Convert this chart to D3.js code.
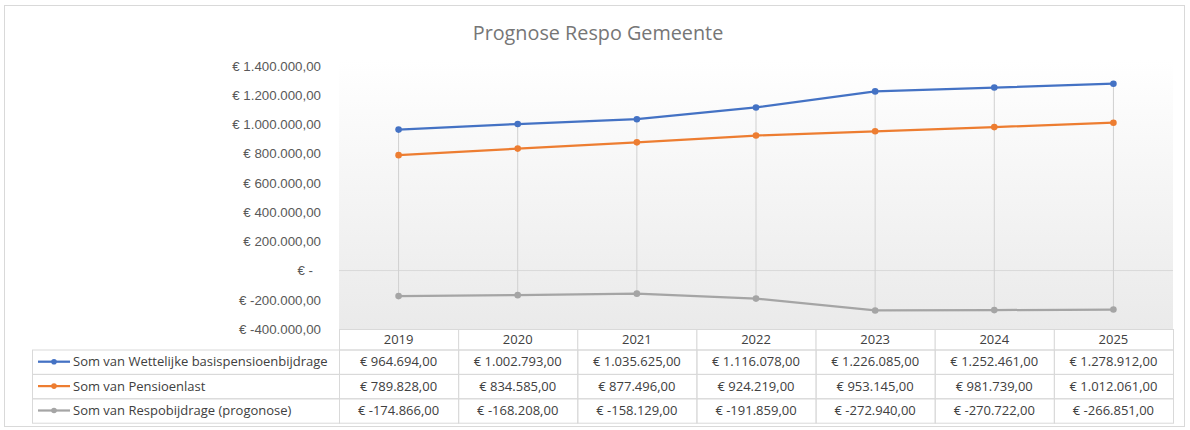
<!DOCTYPE html>
<html>
<head>
<meta charset="utf-8">
<script src="https://cdn.jsdelivr.net/npm/d3@7"></script>
<style>
  body { margin: 0; background: #ffffff; }
  svg { font-family: "Open Sans", "Noto Sans", sans-serif; }
  .ylabel { font-size: 13.3px; fill: #595959; }
  .cell { font-size: 13px; fill: #404040; }
  .legtxt { font-size: 13px; fill: #404040; }
</style>
</head>
<body>
<script>
// data
var years = ['2019', '2020', '2021', '2022', '2023', '2024', '2025'];
var wettelijke = [964694, 1002793, 1035625, 1116078, 1226085, 1252461, 1278912];
var pensioenlast = [789828, 834585, 877496, 924219, 953145, 981739, 1012061];
var respo = [-174866, -168208, -158129, -191859, -272940, -270722, -266851];
var seriesNames = ['Som van Wettelijke basispensioenbijdrage', 'Som van Pensioenlast', 'Som van Respobijdrage (progonose)'];
var seriesColors = ['#4472c4', '#ed7d31', '#a5a5a5'];
var yTicks = [-400000, -200000, 0, 200000, 400000, 600000, 800000, 1000000, 1200000, 1400000];
var title = 'Prognose Respo Gemeente';

var allSeries = [wettelijke, pensioenlast, respo];

var w = 1190,
    h = 430;
var plotLeft = 339,
    plotRight = 1173,
    plotTop = 60,
    plotBottom = 329;
var rowH = 24.4,
    headH = 20.5;

var nl = d3.formatLocale({decimal: ',', thousands: '.', grouping: [3], currency: ['€ ', '']});
var num = nl.format(',.2f');
var euro = function(v) {
    if (v === 0) return '€ -';
    return '€ ' + (v < 0 ? '-' : '') + num(Math.abs(v));
}

var svg = d3.select('body')
    .append('svg')
    .attr('width', w)
    .attr('height', h);

// chart border
svg.append('rect')
    .attr('x', 4.5)
    .attr('y', 5.5)
    .attr('width', 1180)
    .attr('height', 421)
    .attr('fill', '#ffffff')
    .attr('stroke', '#d9d9d9');

// gradient for plot area
var grad = svg.append('defs')
    .append('linearGradient')
    .attr('id', 'plotgrad')
    .attr('x1', 0).attr('y1', 0)
    .attr('x2', 0).attr('y2', 1);
grad.append('stop').attr('offset', '0%').attr('stop-color', '#ffffff');
grad.append('stop').attr('offset', '100%').attr('stop-color', '#eaeaea');

var x = d3.scaleBand()
    .domain(years)
    .range([plotLeft, plotRight])
    .padding(0);
var y = d3.scaleLinear()
    .domain([-400000, 1400000])
    .range([plotBottom, 66]);
var cx = function(d) { return x(d) + x.bandwidth() / 2; };

svg.append('rect')
    .attr('x', plotLeft)
    .attr('y', plotTop)
    .attr('width', plotRight - plotLeft)
    .attr('height', plotBottom - plotTop)
    .attr('fill', 'url(#plotgrad)');

// title
svg.append('text')
    .attr('x', 598)
    .attr('y', 40)
    .attr('text-anchor', 'middle')
    .attr('font-size', '19.8px')
    .attr('fill', '#767676')
    .text(title);

// y axis
var yAxis = d3.axisLeft(y)
    .tickValues(yTicks)
    .tickSize(0)
    .tickPadding(18)
    .tickFormat(euro);
var ya = svg.append('g')
    .attr('transform', 'translate(' + plotLeft + ',0)')
    .call(yAxis);
ya.select('.domain').remove();
ya.selectAll('text')
    .attr('class', 'ylabel')
    .attr('font-family', null)
    .attr('dx', function(d) { return d === 0 ? -8 : 0; });

// zero line
svg.append('line')
    .attr('x1', plotLeft)
    .attr('x2', plotRight)
    .attr('y1', y(0))
    .attr('y2', y(0))
    .attr('stroke', '#d9d9d9')
    .attr('stroke-width', 1);

// high-low lines
svg.append('g')
    .selectAll('line')
    .data(years)
    .join('line')
    .attr('x1', cx)
    .attr('x2', cx)
    .attr('y1', function(d, i) { return y(d3.max(allSeries, function(s) { return s[i]; })); })
    .attr('y2', function(d, i) { return y(d3.min(allSeries, function(s) { return s[i]; })); })
    .attr('stroke', '#d0d0d0')
    .attr('stroke-width', 1);

// series lines + markers
var line = d3.line()
    .x(function(d, i) { return cx(years[i]); })
    .y(function(d) { return y(d); });
allSeries.forEach(function(s, k) {
    svg.append('path')
        .datum(s)
        .attr('d', line)
        .attr('fill', 'none')
        .attr('stroke', seriesColors[k])
        .attr('stroke-width', 2.25)
        .attr('stroke-linejoin', 'round');
    svg.append('g')
        .selectAll('circle')
        .data(s)
        .join('circle')
        .attr('cx', function(d, i) { return cx(years[i]); })
        .attr('cy', function(d) { return y(d); })
        .attr('r', 3.3)
        .attr('fill', seriesColors[k]);
});

// data table
var tbl = svg.append('g');
var tableTop = plotBottom;
var legLeft = 32.5;
// header cells
tbl.selectAll('rect.head')
    .data(years)
    .join('rect')
    .attr('class', 'head')
    .attr('x', function(d) { return x(d) + 0.5; })
    .attr('y', tableTop + 0.5)
    .attr('width', x.bandwidth())
    .attr('height', headH)
    .attr('fill', '#ffffff')
    .attr('stroke', '#d9d9d9');
tbl.selectAll('text.head')
    .data(years)
    .join('text')
    .attr('class', 'cell head')
    .attr('x', cx)
    .attr('y', tableTop + headH / 2 + 5)
    .attr('text-anchor', 'middle')
    .text(function(d) { return d; });

allSeries.forEach(function(s, k) {
    var ry = tableTop + headH + k * rowH;
    // legend cell
    tbl.append('rect')
        .attr('x', legLeft)
        .attr('y', ry + 0.5)
        .attr('width', plotLeft - legLeft + 0.5)
        .attr('height', rowH)
        .attr('fill', 'none')
        .attr('stroke', '#d9d9d9');
    tbl.append('line')
        .attr('x1', 38)
        .attr('x2', 70)
        .attr('y1', ry + rowH / 2)
        .attr('y2', ry + rowH / 2)
        .attr('stroke', seriesColors[k])
        .attr('stroke-width', 2.25);
    tbl.append('circle')
        .attr('cx', 54)
        .attr('cy', ry + rowH / 2)
        .attr('r', 2.8)
        .attr('fill', seriesColors[k]);
    tbl.append('text')
        .attr('class', 'legtxt')
        .attr('x', 73)
        .attr('y', ry + rowH / 2 + 4.5)
        .text(seriesNames[k]);
    // value cells
    tbl.append('g')
        .selectAll('rect')
        .data(s)
        .join('rect')
        .attr('x', function(d, i) { return x(years[i]) + 0.5; })
        .attr('y', ry + 0.5)
        .attr('width', x.bandwidth())
        .attr('height', rowH)
        .attr('fill', 'none')
        .attr('stroke', '#d9d9d9');
    tbl.append('g')
        .selectAll('text')
        .data(s)
        .join('text')
        .attr('class', 'cell')
        .attr('x', function(d, i) { return cx(years[i]); })
        .attr('y', ry + rowH / 2 + 4.5)
        .attr('text-anchor', 'middle')
        .text(euro);
});
</script>
</body>
</html>
